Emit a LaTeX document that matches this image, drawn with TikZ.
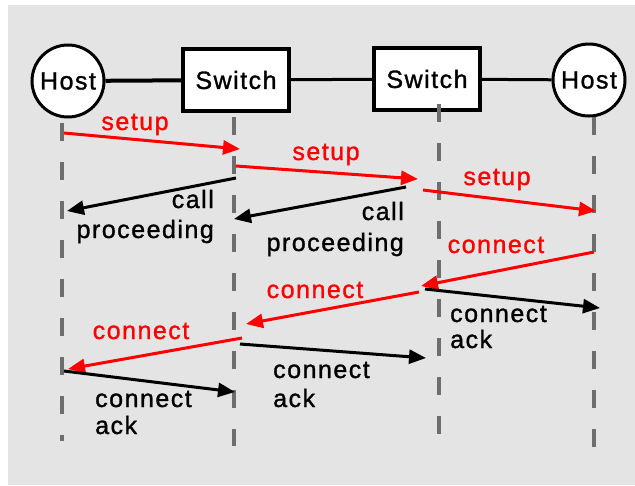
\documentclass[tikz,border=0pt]{standalone}
\usepackage{fontspec}
\setmainfont{Liberation Sans}[LetterSpace=6, FakeBold=1.2]
\usetikzlibrary{arrows.meta}
\definecolor{bggray}{HTML}{E4E4E4}
\definecolor{lifegray}{HTML}{6E6E6E}
\definecolor{msgred}{HTML}{FF0000}
\tikzset{
  hostnode/.style={circle, draw=black, fill=white, line width=3pt, minimum size=72pt, inner sep=0pt},
  switchnode/.style={rectangle, draw=black, fill=white, line width=3.5pt, minimum width=106pt, minimum height=62pt, inner sep=0pt},
  lifeline/.style={draw=lifegray, line width=3.5pt, dash pattern=on 18pt off 21pt},
  msg/.style={line width=3pt, -{Triangle[length=17pt, width=14pt]}},
  redmsg/.style={msg, draw=msgred, color=msgred},
  blackmsg/.style={msg, draw=black, color=black},
  lbl/.style={font=\fontsize{25pt}{30pt}\selectfont, inner sep=0pt},
  redlbl/.style={lbl, text=msgred},
  blacklbl/.style={lbl, text=black},
}
\begin{document}
\begin{tikzpicture}[x=1pt, y=-1pt]
  % canvas and backdrop
  \useasboundingbox (0,0) rectangle (635,485);
  \fill[white] (0,0) rectangle (635,485);
  \fill[bggray] (8,5) rectangle (635,485);

  % network: host -- switch -- switch -- host
  \node[hostnode] (hostA) at (68,81) {};
  \node[switchnode] (swA) at (236,80) {};
  \node[switchnode] (swB) at (427,79) {};
  \node[hostnode] (hostB) at (589,80) {};
  \draw[line width=4pt] (hostA) -- (swA);
  \draw[line width=3pt] (swA) -- (swB);
  \draw[line width=3pt] (swB) -- (hostB);
  \node[lbl] at (hostA) {Host};
  \node[lbl] at (swA) {Switch};
  \node[lbl] at (swB) {Switch};
  \node[lbl] at (hostB) {Host};

  % lifelines
  \coordinate (lA1) at (62,123);  \coordinate (lA2) at (62,441);
  \coordinate (lB1) at (234,117); \coordinate (lB2) at (234,446);
  \coordinate (lC1) at (439,104); \coordinate (lC2) at (439,437);
  \coordinate (lD1) at (594,117); \coordinate (lD2) at (594,450);
  \draw[lifeline] (lA1) -- (lA2);
  \draw[lifeline] (lB1) -- (lB2);
  \draw[lifeline] (lC1) -- (lC2);
  \draw[lifeline] (lD1) -- (lD2);

  % setup messages
  \coordinate (s1a) at (64,133);  \coordinate (s1b) at (240,149);
  \coordinate (s2a) at (236,166); \coordinate (s2b) at (418,179);
  \coordinate (s3a) at (423,190); \coordinate (s3b) at (596,211);
  \draw[redmsg] (s1a) -- (s1b);
  \draw[redmsg] (s2a) -- (s2b);
  \draw[redmsg] (s3a) -- (s3b);
  \node[redlbl, anchor=base] at (135,130) {setup};
  \node[redlbl, anchor=base] at (326,160) {setup};
  \node[redlbl, anchor=base] at (497,185) {setup};

  % call proceeding messages
  \coordinate (p1a) at (236,178); \coordinate (p1b) at (67,211);
  \coordinate (p2a) at (406,187); \coordinate (p2b) at (234,219);
  \draw[blackmsg] (p1a) -- (p1b);
  \draw[blackmsg] (p2a) -- (p2b);
  \node[blacklbl, anchor=base east] at (214,208) {call};
  \node[blacklbl, anchor=base east] at (214,238) {proceeding};
  \node[blacklbl, anchor=base east] at (404,220) {call};
  \node[blacklbl, anchor=base east] at (404,251) {proceeding};

  % connect messages
  \coordinate (c1a) at (594,252); \coordinate (c1b) at (421,286);
  \coordinate (c2a) at (419,292); \coordinate (c2b) at (246,324);
  \coordinate (c3a) at (242,338); \coordinate (c3b) at (68,369);
  \draw[redmsg] (c1a) -- (c1b);
  \draw[redmsg] (c2a) -- (c2b);
  \draw[redmsg] (c3a) -- (c3b);
  \node[redlbl, anchor=base] at (496,253) {connect};
  \node[redlbl, anchor=base] at (315,298) {connect};
  \node[redlbl, anchor=base] at (141,339) {connect};

  % connect ack messages
  \coordinate (k1a) at (425,289); \coordinate (k1b) at (600,308);
  \coordinate (k2a) at (240,344); \coordinate (k2b) at (426,358);
  \coordinate (k3a) at (64,371);  \coordinate (k3b) at (235,392);
  \draw[blackmsg] (k1a) -- (k1b);
  \draw[blackmsg] (k2a) -- (k2b);
  \draw[blackmsg] (k3a) -- (k3b);
  \node[blacklbl, anchor=base west] at (450,322) {connect};
  \node[blacklbl, anchor=base west] at (450,348) {ack};
  \node[blacklbl, anchor=base west] at (273,378) {connect};
  \node[blacklbl, anchor=base west] at (273,407) {ack};
  \node[blacklbl, anchor=base west] at (95,407) {connect};
  \node[blacklbl, anchor=base west] at (95,434) {ack};
\end{tikzpicture}
\end{document}
